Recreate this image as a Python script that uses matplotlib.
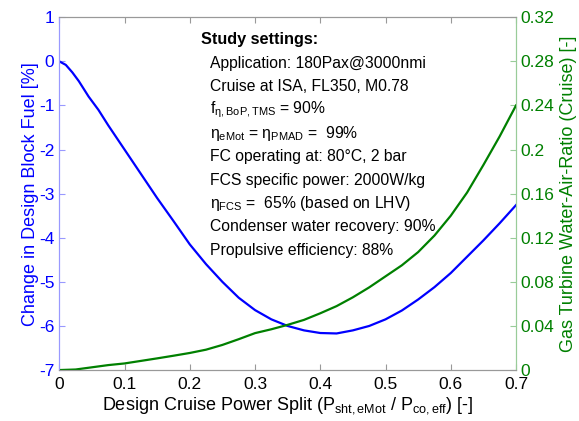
import numpy as np
import matplotlib.pyplot as plt
from matplotlib.ticker import FuncFormatter

plt.rcParams['font.family'] = ['Liberation Sans', 'DejaVu Sans']
plt.rcParams['mathtext.fontset'] = 'custom'
plt.rcParams['mathtext.rm'] = 'Liberation Sans'
plt.rcParams['mathtext.it'] = 'Liberation Sans'
plt.rcParams['axes.unicode_minus'] = False

# power split vs change in block fuel [%]
split_fuel = [0, 0.01, 0.02, 0.03, 0.045, 0.06, 0.075, 0.1, 0.125, 0.15, 0.175, 0.2,
              0.225, 0.25, 0.275, 0.3, 0.325, 0.35, 0.375, 0.4, 0.425, 0.45, 0.475,
              0.5, 0.525, 0.55, 0.575, 0.6, 0.625, 0.65, 0.675, 0.7]
block_fuel = [0, -0.08, -0.25, -0.45, -0.8, -1.1, -1.45, -2.0, -2.55, -3.1, -3.62, -4.15,
              -4.6, -5.0, -5.36, -5.64, -5.85, -6.0, -6.1, -6.16, -6.17, -6.1, -6.0,
              -5.85, -5.65, -5.4, -5.12, -4.8, -4.43, -4.06, -3.67, -3.26]

# power split vs gas turbine water-air-ratio [-]
split_war = [0, 0.025, 0.05, 0.075, 0.1, 0.125, 0.15, 0.175, 0.2, 0.225, 0.25, 0.275,
             0.3, 0.325, 0.35, 0.375, 0.4, 0.425, 0.45, 0.475, 0.5, 0.525, 0.55, 0.575,
             0.6, 0.625, 0.65, 0.675, 0.7]
water_air = [0, 0.0005, 0.0025, 0.0045, 0.006, 0.0083, 0.0106, 0.013, 0.0155, 0.0185,
             0.0228, 0.028, 0.0335, 0.037, 0.041, 0.0455, 0.0515, 0.058, 0.066, 0.075,
             0.085, 0.095, 0.107, 0.122, 0.14, 0.161, 0.186, 0.212, 0.24]

settings = [
    "Application: 180Pax@3000nmi",
    "Cruise at ISA, FL350, M0.78",
    r"f$_{\mathrm{η,BoP,TMS}}$ = 90%",
    r"η$_{\mathrm{eMot}}$ = η$_{\mathrm{PMAD}}$ =  99%",
    "FC operating at: 80°C, 2 bar",
    "FCS specific power: 2000W/kg",
    r"η$_{\mathrm{FCS}}$ =  65% (based on LHV)",
    "Condenser water recovery: 90%",
    "Propulsive efficiency: 88%",
]

blue = '#0000ff'
green = '#008000'

fig = plt.figure(figsize=(5.79, 4.21), dpi=100)
ax = fig.add_axes([0.1024, 0.121, 0.7888, 0.838])
ax2 = ax.twinx()

ax.plot(split_fuel, block_fuel, color=blue, lw=1.6)
ax2.plot(split_war, water_air, color=green, lw=1.6)

ax.set_xlim(0, 0.7)
ax.set_ylim(-7, 1)
ax2.set_ylim(0, 0.32)
ax.set_xticks(np.arange(0, 0.71, 0.1))
ax.set_yticks(np.arange(-7, 2, 1))
ax2.set_yticks(np.arange(0, 0.33, 0.04))
fmt = FuncFormatter(lambda v, p: f"{round(v, 4):g}")
ax.xaxis.set_major_formatter(fmt)
ax2.yaxis.set_major_formatter(fmt)

ax.tick_params(axis='x', direction='in', top=True, length=4, color='#999999',
               labelsize=12.5, pad=5)
ax.tick_params(axis='y', direction='in', length=4, color='#9999ff', labelcolor=blue,
               labelsize=12.5)
ax2.tick_params(axis='y', direction='in', length=4, color='#99cc99', labelcolor=green,
                labelsize=12.5)

for a in (ax, ax2):
    a.spines['top'].set_color('#999999')
    a.spines['bottom'].set_color('#999999')
    a.spines['left'].set_color('#9999ff')
    a.spines['right'].set_color('#99cc99')

ax.set_xlabel(r"Design Cruise Power Split (P$_{\mathrm{sht,eMot}}$ / P$_{\mathrm{co,eff}}$) [-]",
              fontsize=13, labelpad=2)
ax.set_ylabel("Change in Design Block Fuel [%]", color=blue, fontsize=13, labelpad=0)
ax2.set_ylabel("Gas Turbine Water-Air-Ratio (Cruise) [-]", color=green, fontsize=13,
               labelpad=4)

ax.text(0.31, 0.936, "Study settings:", transform=ax.transAxes, fontsize=11.7,
        fontweight='bold', va='center')
for i, line in enumerate(settings):
    ax.text(0.33, 0.870 - i * 0.0663, line, transform=ax.transAxes, fontsize=11.3,
            va='center')

fig.savefig('out.png', dpi=100)
